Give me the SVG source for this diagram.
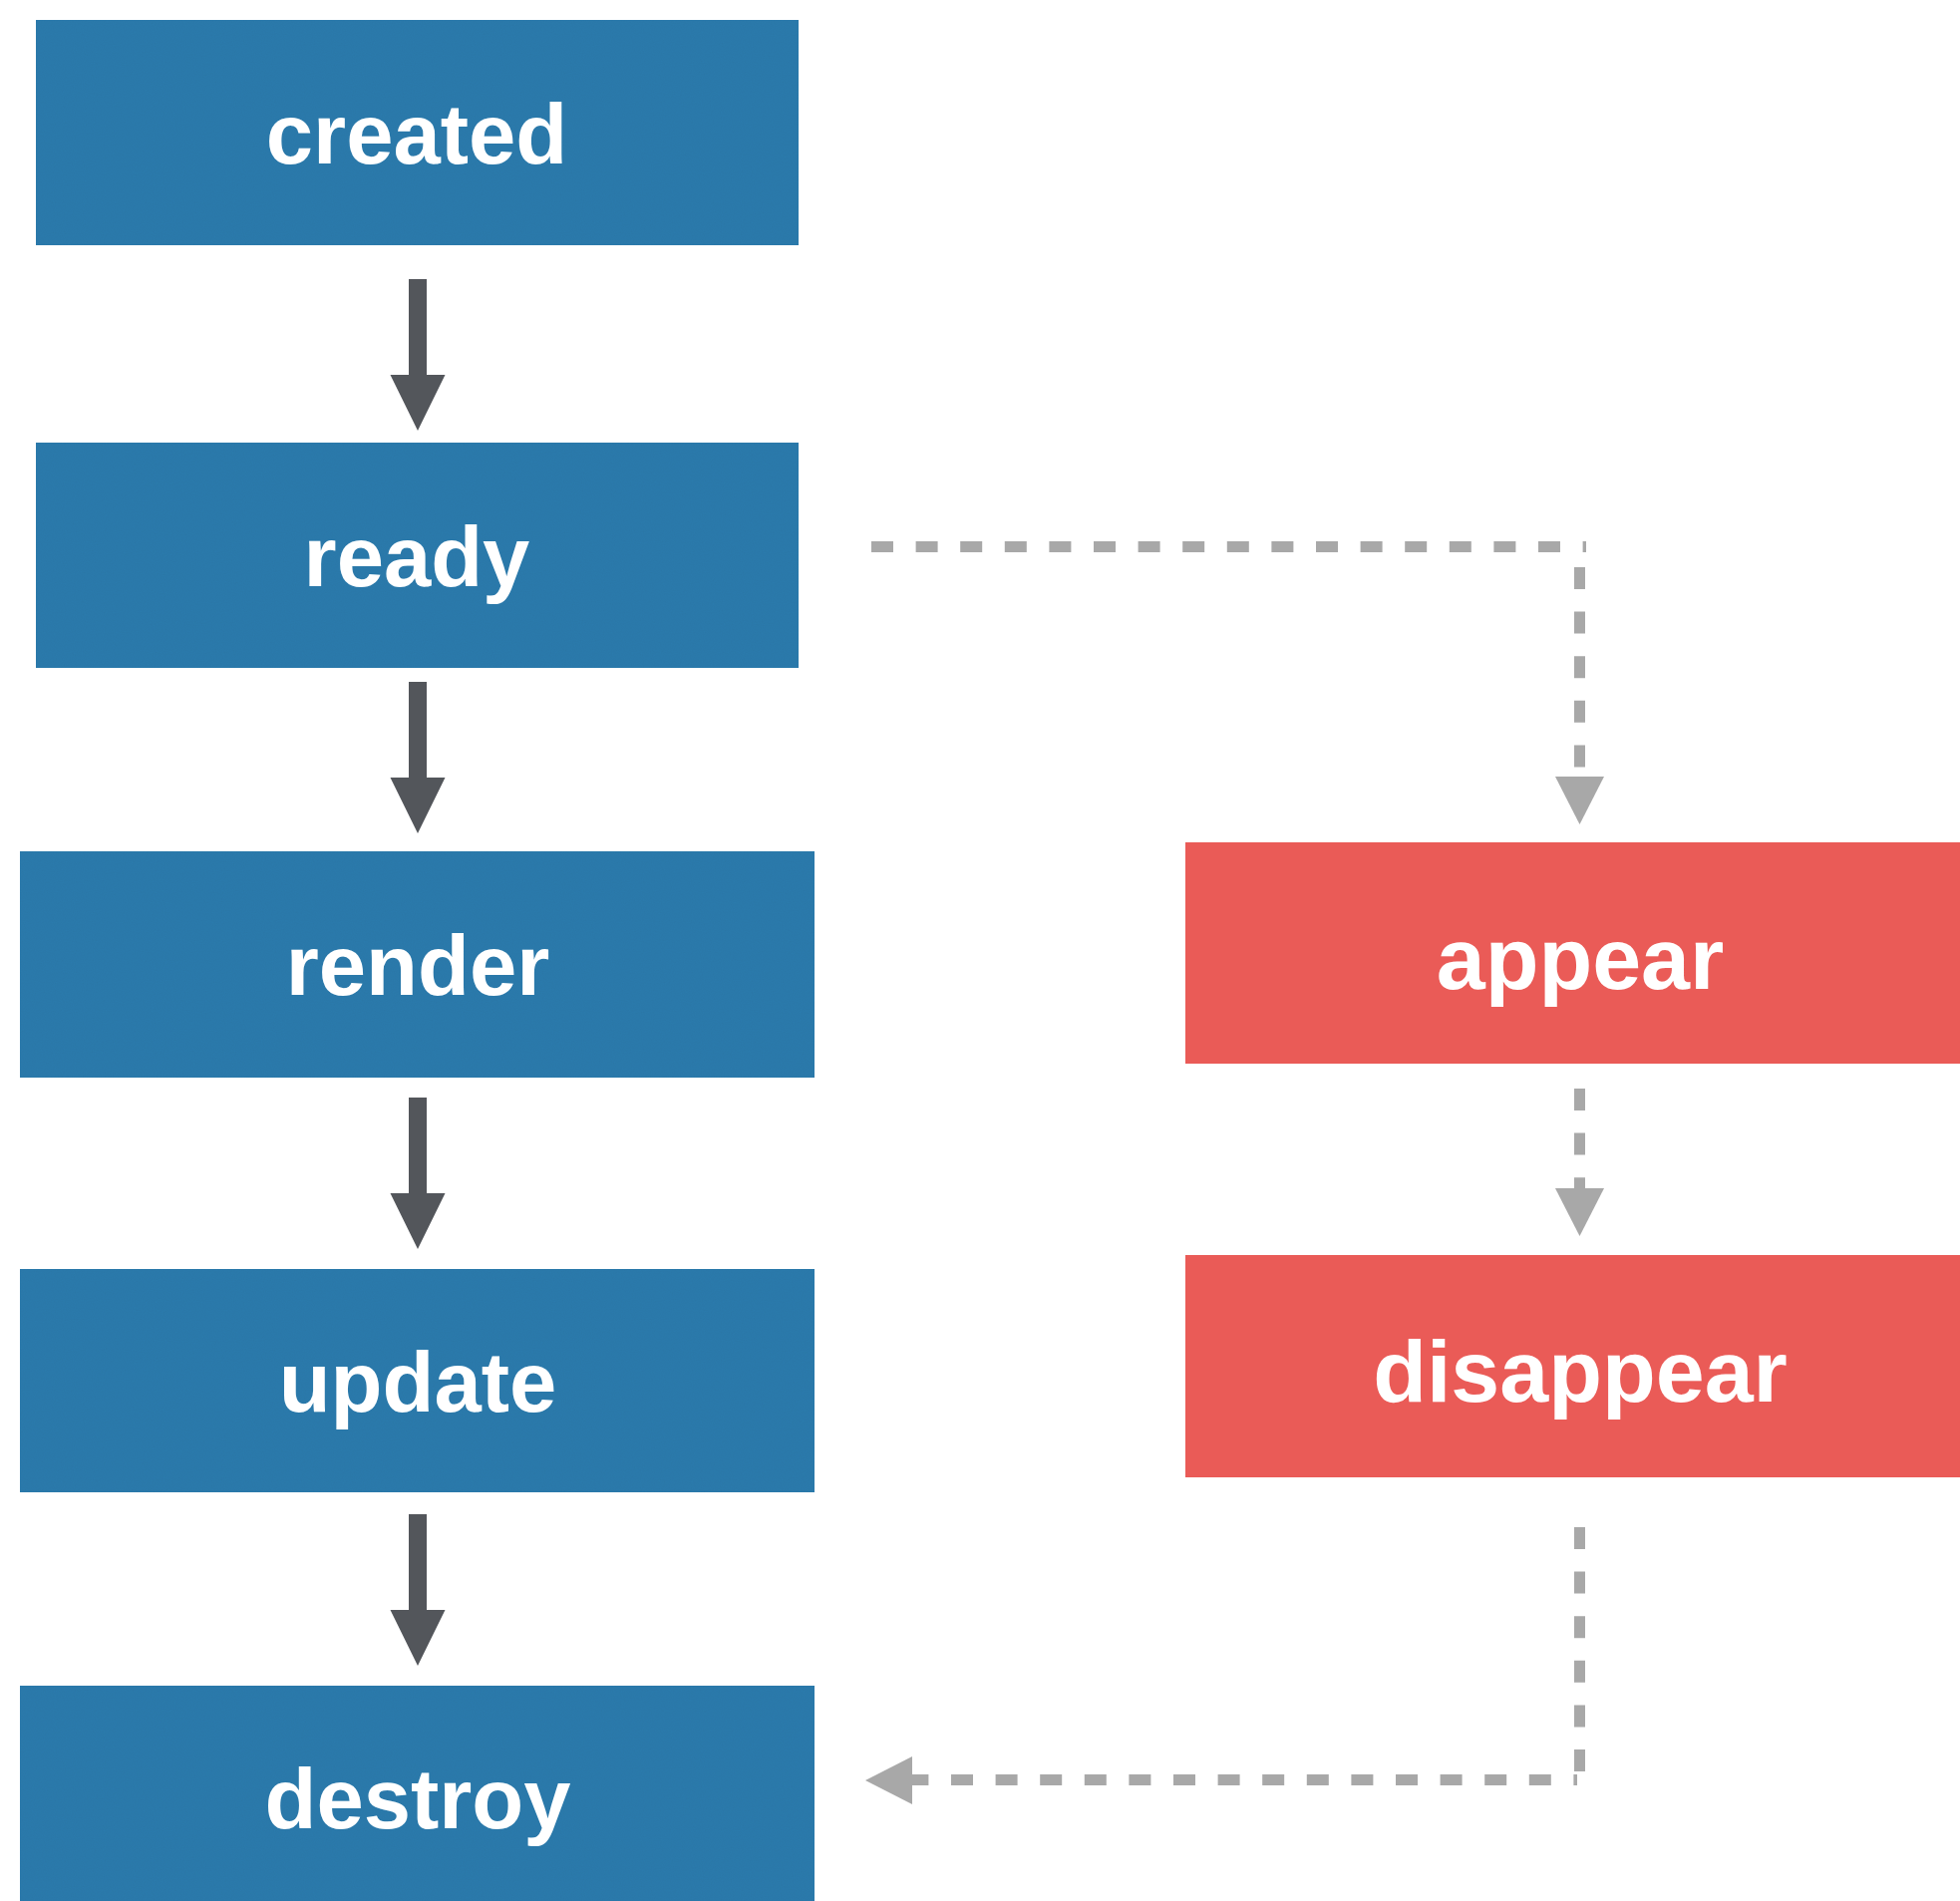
<svg xmlns="http://www.w3.org/2000/svg" xmlns:xlink="http://www.w3.org/1999/xlink" width="1966" height="1907" viewBox="0 0 1966 1907">
  <style>
    .blue { fill: #2f7bad; }
    .red { fill: #ea5b57; }
    .label { font-family: "Liberation Sans", Arial, sans-serif; font-weight: bold; fill: #ffffff; text-anchor: middle; }
    .lb { font-size: 85px; }
    .lr { font-size: 88px; }
    .dash { stroke: #a8a8a8; stroke-width: 11; fill: none; stroke-dasharray: 22 22.6; }
    .ghead { fill: #a8a8a8; }
    .dark { fill: #53565b; }
  </style>
  <defs>
    <filter id="paper" x="0" y="0" width="100%" height="100%">
      <feTurbulence type="fractalNoise" baseFrequency="0.9" numOctaves="2" seed="3" result="n"/>
      <feColorMatrix in="n" type="matrix" values="0 0 0 0 0  0 0 0 0 0  0 0 0 0 0  0 0 0 0.08 0" result="a"/>
      <feComposite in="a" in2="SourceGraphic" operator="in" result="t"/>
      <feMerge><feMergeNode in="SourceGraphic"/><feMergeNode in="t"/></feMerge>
    </filter>
    <path id="darrow" d="M -9 0 H 9 V 96 H 27.5 L 0 152 L -27.5 96 H -9 Z"/>
  </defs>
  <rect width="1966" height="1907" fill="#ffffff"/>

  <g id="connectors">
    <use xlink:href="#darrow" class="dark" transform="translate(419,280)"/>
    <use xlink:href="#darrow" class="dark" transform="translate(419,684)"/>
    <use xlink:href="#darrow" class="dark" transform="translate(419,1101)"/>
    <use xlink:href="#darrow" class="dark" transform="translate(419,1519)"/>

    <line class="dash" x1="874" y1="548.5" x2="1591" y2="548.5"/>
    <line class="dash" x1="1584.5" y1="569" x2="1584.5" y2="771"/>
    <polygon class="ghead" points="1560,779 1609,779 1584.5,827"/>

    <line class="dash" x1="1584.5" y1="1092" x2="1584.5" y2="1193"/>
    <polygon class="ghead" points="1560,1192 1609,1192 1584.5,1240"/>

    <line class="dash" x1="1584.5" y1="1532" x2="1584.5" y2="1779"/>
    <line class="dash" x1="909.4" y1="1785.5" x2="1582" y2="1785.5"/>
    <polygon class="ghead" points="868,1786 915,1762 915,1810"/>
  </g>

  <g id="node-created">
    <rect class="blue" x="36" y="20" width="765" height="226" filter="url(#paper)"/>
    <text class="label lb" x="418" y="164">created</text>
  </g>
  <g id="node-ready">
    <rect class="blue" x="36" y="444" width="765" height="226" filter="url(#paper)"/>
    <text class="label lb" x="418" y="588">ready</text>
  </g>
  <g id="node-render">
    <rect class="blue" x="20" y="854" width="797" height="227" filter="url(#paper)"/>
    <text class="label lb" x="419" y="998">render</text>
  </g>
  <g id="node-update">
    <rect class="blue" x="20" y="1273" width="797" height="224" filter="url(#paper)"/>
    <text class="label lb" x="419" y="1416">update</text>
  </g>
  <g id="node-destroy">
    <rect class="blue" x="20" y="1691" width="797" height="216" filter="url(#paper)"/>
    <text class="label lb" x="419" y="1834">destroy</text>
  </g>
  <g id="node-appear">
    <rect class="red" x="1189" y="845" width="777" height="222"/>
    <text class="label lr" x="1585" y="992">appear</text>
  </g>
  <g id="node-disappear">
    <rect class="red" x="1189" y="1259" width="777" height="223"/>
    <text class="label lr" x="1585" y="1406">disappear</text>
  </g>
</svg>
